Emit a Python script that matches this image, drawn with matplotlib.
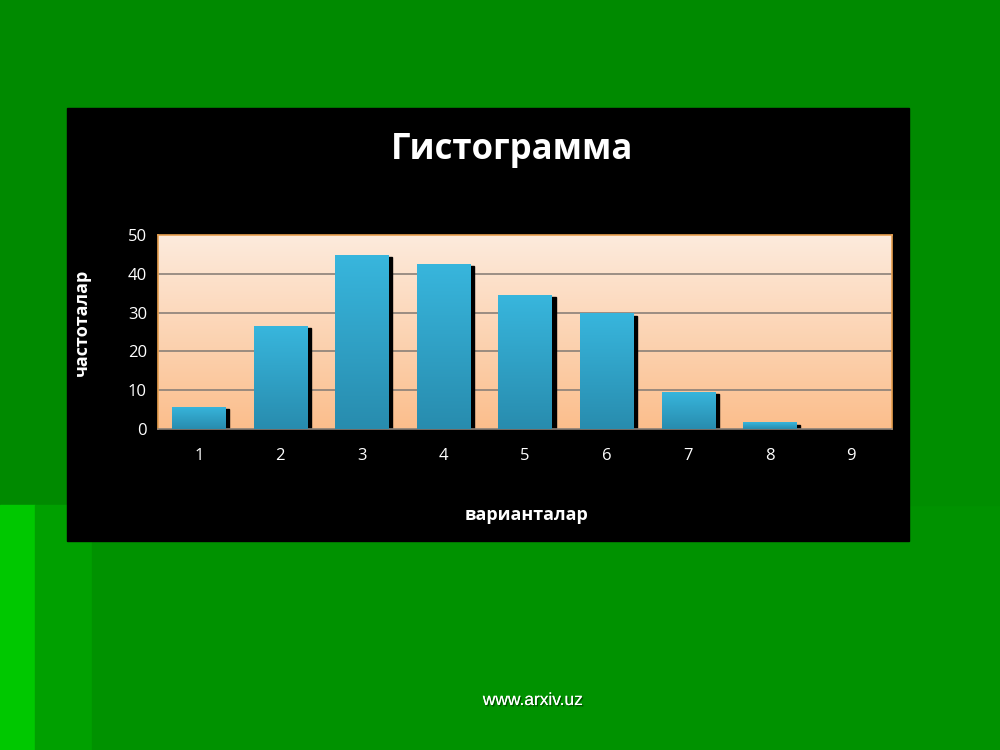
import numpy as np
import matplotlib
matplotlib.use("Agg")
import matplotlib.pyplot as plt
from matplotlib.patches import Rectangle
import matplotlib.patheffects as pe

categories = ["1", "2", "3", "4", "5", "6", "7", "8", "9"]
freqs = [5.7, 26.5, 44.8, 42.6, 34.5, 29.8, 9.6, 1.7, 0]
title = "Гистограмма"
xlabel = "варианталар"
ylabel = "частоталар"
footer = "www.arxiv.uz"

fig = plt.figure(figsize=(10, 7.5), dpi=100)
fig.patch.set_facecolor("#008a00")

# slide background shades
fig.patches.append(Rectangle((0, 0), 0.035, 0.327, transform=fig.transFigure,
                             color="#00c800", zorder=0))
fig.patches.append(Rectangle((0.035, 0), 0.057, 0.327, transform=fig.transFigure,
                             color="#00a000", zorder=0))
fig.patches.append(Rectangle((0.092, 0), 0.908, 0.327, transform=fig.transFigure,
                             color="#009200", zorder=0))
fig.patches.append(Rectangle((0.909, 0.327), 0.091, 0.407, transform=fig.transFigure,
                             color="#008e00", zorder=0))
# black chart panel
fig.patches.append(Rectangle((0.067, 0.2787), 0.842, 0.5773, transform=fig.transFigure,
                             color="black", zorder=1))

ax = fig.add_axes([0.158, 0.428, 0.734, 0.2587])
ax.set_zorder(2)
x = np.arange(len(categories))

# gradient plot area (light at top, peach at bottom)
grad = np.linspace(0, 1, 256).reshape(-1, 1)
bg = np.zeros((256, 1, 3))
top_c = np.array([0xfd, 0xeb, 0xdd]) / 255
bot_c = np.array([0xfb, 0xbe, 0x8c]) / 255
bg[:, 0, :] = top_c * (1 - grad) + bot_c * grad
ax.imshow(bg, extent=(-0.5, len(categories) - 0.5, 0, 50), aspect="auto", zorder=0)

for y in [10, 20, 30, 40]:
    ax.axhline(y, color="#8a8078", lw=1.2, zorder=1)

w = 0.65
# shadows
for xi, v in zip(x, freqs):
    if v > 0:
        ax.add_patch(Rectangle((xi - w / 2 + 0.05, 0), w, v - 0.6, color="black", zorder=2))

bgrad = np.zeros((256, 1, 3))
b_top = np.array([0x38, 0xb6, 0xdd]) / 255
b_bot = np.array([0x28, 0x8c, 0xae]) / 255
bgrad[:, 0, :] = b_top * (1 - grad) + b_bot * grad
for xi, v in zip(x, freqs):
    if v > 0:
        im = ax.imshow(bgrad, extent=(xi - w / 2, xi + w / 2, 0, v), aspect="auto", zorder=3)
        r = Rectangle((xi - w / 2, 0), w, v, transform=ax.transData, fill=False, lw=0)
        ax.add_patch(r)
        im.set_clip_path(r)
ax.set_xlim(-0.5, len(categories) - 0.5)
ax.set_ylim(0, 50)

for s in ax.spines.values():
    s.set_color("#e8a050")
    s.set_linewidth(1.2)
ax.spines["bottom"].set_color("#8a8078")

ax.set_xticks(x)
ax.set_xticklabels(categories)
ax.set_yticks([0, 10, 20, 30, 40, 50])
ax.tick_params(colors="white", labelsize=12, length=0, pad=14)
ax.tick_params(axis="y", pad=8)
for lab in ax.get_xticklabels() + ax.get_yticklabels():
    lab.set_fontfamily("Open Sans")
    lab.set_color("white")

fig.text(0.512, 0.8, title, color="white", fontsize=25, fontweight="bold",
         family="Open Sans", ha="center", va="center")
fig.text(0.527, 0.313, xlabel, color="white", fontsize=13, fontweight="bold",
         family="Open Sans", ha="center", va="center")
fig.text(0.082, 0.57, ylabel, color="white", fontsize=13, fontweight="bold",
         family="Open Sans", ha="center", va="center", rotation=90)
fig.text(0.533, 0.066, footer, color="white", fontsize=12.5, family="Liberation Sans",
         ha="center", va="center",
         path_effects=[pe.withSimplePatchShadow(offset=(1, -1), shadow_rgbFace="#004000", alpha=0.8),
                       pe.Normal()])

fig.savefig("out.png", dpi=100, facecolor=fig.get_facecolor())
